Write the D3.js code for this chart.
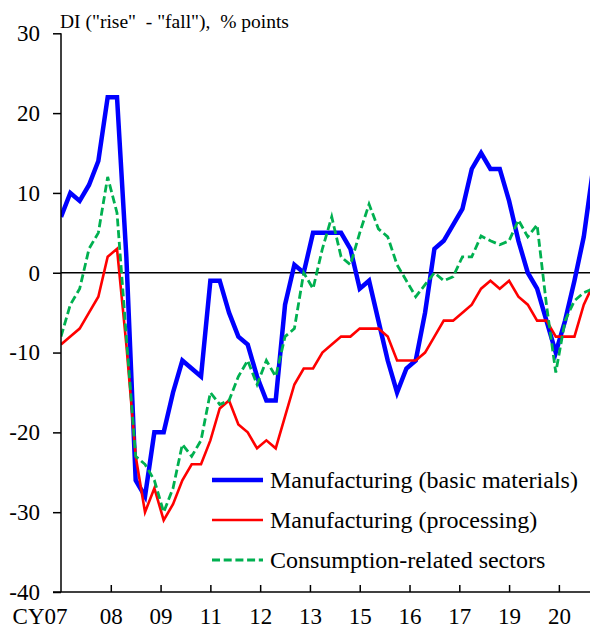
<!DOCTYPE html>
<html>
<head>
<meta charset="utf-8">
<script src="https://cdn.jsdelivr.net/npm/d3@7"></script>
<style>
  html, body { margin: 0; padding: 0; background: #fff; }
</style>
</head>
<body>
<svg id="chart" width="590" height="630"></svg>
<script>
// Quarterly observations, first one = CY2007 Q1 (month index = 3 * i)
const basicMaterials = [7,10,9,11,14,22,22,2,-26,-28,-20,-20,-15,-11,-12,-13,-1,-1,-5,-8,-9,-13,-16,-16,-4,1,0,5,5,5,5,3,-2,-1,-6,-11,-15,-12,-11,-5,3,4,6,8,13,15,13,13,9,4,0,-2,-6,-10,-6,-1,4.5,13];
const processing = [-9,-8,-7,-5,-3,2,3,-9,-23,-30,-27,-31,-29,-26,-24,-24,-21,-17,-16,-19,-20,-22,-21,-22,-18,-14,-12,-12,-10,-9,-8,-8,-7,-7,-7,-8,-11,-11,-11,-10,-8,-6,-6,-5,-4,-2,-1,-2,-1,-3,-4,-6,-6,-8,-8,-8,-4,-1.5];
const consumption = [-8,-4,-2,3,5,12,7.5,-8,-23,-24,-26,-30,-27,-21.5,-23,-21,-15,-16.5,-16,-13,-11,-14,-11,-13,-8,-7,0,-2,3,7,2,1,5,8.6,5.5,4.5,1,-1,-3,-1.5,0,-1,-0.5,2,2,4.6,4,3.5,4,6.6,4.5,6,-4,-12.5,-6,-3.5,-2.5,-2];

const seriesNames = ["Manufacturing (basic materials)", "Manufacturing (processing)", "Consumption-related sectors"];
const xTickMonths = [0,16,32,48,64,80,96,112,128,144,160];
const xTickLabels = ["CY07","08","09","11","12","13","15","16","17","19","20"];
const yTicks = [-40,-30,-20,-10,0,10,20,30];
const yTitle = "DI (\"rise\"  - \"fall\"),  % points";

const FONT = "'Liberation Serif', 'Times New Roman', Tinos, 'DejaVu Serif', serif";

const svg = d3.select("#chart").style("font-family", FONT);
const pLeft = 61, pRight = 590, pTop = 33.3, pBottom = 592;

const x = d3.scaleLinear().domain([0, 170]).range([pLeft, pRight]);
const y = d3.scaleLinear().domain([-40, 30]).range([pBottom, pTop]);

svg.append("defs").append("clipPath").attr("id", "plotclip")
  .append("rect").attr("x", pLeft).attr("y", 0).attr("width", pRight - pLeft).attr("height", 630);

// zero line
svg.append("line").attr("x1", pLeft).attr("x2", pRight)
  .attr("y1", y(0)).attr("y2", y(0)).attr("stroke", "#000").attr("stroke-width", 1.5);

const styles = [
  { data: basicMaterials, color: "#0000ff", width: 4.5, dash: null },
  { data: processing, color: "#ff0000", width: 2.6, dash: null },
  { data: consumption, color: "#00b050", width: 2.8, dash: "8,3.7" }
];

const line = d3.line().x((d, i) => x(3 * i)).y(d => y(d)).curve(d3.curveLinear);
const g = svg.append("g").attr("clip-path", "url(#plotclip)");
styles.forEach(s => {
  g.append("path").datum(s.data)
    .attr("d", line).attr("fill", "none")
    .attr("stroke", s.color).attr("stroke-width", s.width)
    .attr("stroke-linejoin", "miter").attr("stroke-miterlimit", 4)
    .attr("stroke-dasharray", s.dash);
});

// Y axis
const yAxis = d3.axisLeft(y).tickValues(yTicks).tickSize(8).tickPadding(13).tickFormat(d3.format("d"));
const ya = svg.append("g").attr("transform", `translate(${pLeft},0)`).call(yAxis);
ya.attr("font-family", null).attr("font-size", null);
ya.select(".domain").attr("stroke-width", 1.5).attr("d", `M0,${pTop}V${pBottom}`);
ya.selectAll(".tick line").attr("stroke-width", 1.5);
ya.selectAll(".tick text").style("font-family", FONT).style("font-size", "23px").attr("fill", "#000")
  .text(d => d < 0 ? "-" + Math.abs(d) : d);

// X axis (ticks pointing up into the plot)
const xAxis = d3.axisBottom(x).tickValues(xTickMonths).tickSize(0).tickFormat((d, i) => xTickLabels[i]);
const xa = svg.append("g").attr("transform", `translate(0,${pBottom})`).call(xAxis);
xa.attr("font-family", null).attr("font-size", null);
xa.select(".domain").attr("stroke-width", 1.5).attr("d", `M${pLeft - 8},0H${pRight}`);
xa.selectAll(".tick").filter(d => d !== 0).append("line").attr("y1", 0).attr("y2", -7)
  .attr("stroke", "#000").attr("stroke-width", 1.5);
xa.selectAll(".tick text").style("font-family", FONT).style("font-size", "23px").attr("fill", "#000")
  .attr("y", 16).attr("dy", "0.71em")
  .attr("text-anchor", d => d === 0 ? "end" : "middle")
  .attr("x", d => d === 0 ? 6 : 0);

// Title
svg.append("text").attr("x", 60).attr("y", 28)
  .style("font-family", FONT).style("font-size", "19.5px").attr("fill", "#000")
  .attr("xml:space", "preserve").style("white-space", "pre").text(yTitle);

// Legend
const legend = svg.append("g");
styles.forEach((s, i) => {
  const ly = 480 + i * 40;
  legend.append("line").attr("x1", 212).attr("x2", 263).attr("y1", ly).attr("y2", ly)
    .attr("stroke", s.color).attr("stroke-width", s.width).attr("stroke-dasharray", s.dash);
  legend.append("text").attr("x", 270).attr("y", ly).attr("dy", "0.33em")
    .style("font-family", FONT).style("font-size", "24px").attr("fill", "#000")
    .text(seriesNames[i]);
});
</script>
</body>
</html>
